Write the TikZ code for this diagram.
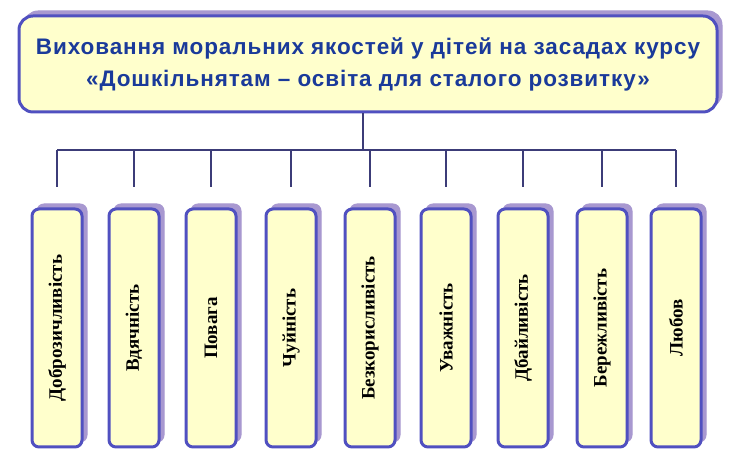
\documentclass[tikz,border=0pt]{standalone}
\usepackage{fontspec}
\setmainfont{Liberation Serif}
\newfontfamily\titlefont[LetterSpace=4]{Liberation Sans}
\usetikzlibrary{calc,shadows}
\definecolor{boxfill}{HTML}{FFFFCC}
\definecolor{boxline}{HTML}{5050C0}
\definecolor{shadowc}{HTML}{A898D0}
\definecolor{titlec}{HTML}{1A3A9A}
\definecolor{linec}{HTML}{3C3C78}
\tikzset{
  yb/.style={draw=boxline, line width=3pt, fill=boxfill, rounded corners=8pt, inner sep=0pt,
    copy shadow={shadow xshift=5pt, shadow yshift=5pt, draw=shadowc, fill=shadowc, line width=1pt}},
  colbox/.style={yb, minimum width=50pt, minimum height=238pt, rounded corners=7pt},
  coltext/.style={rotate=90, font=\bfseries\fontsize{19}{21}\selectfont, text=black},
  conn/.style={draw=linec, line width=2.5pt},
}
\begin{document}
\begin{tikzpicture}[x=1pt,y=1pt]
\useasboundingbox (0,0) rectangle (743,462);
\node[yb, minimum width=698pt, minimum height=96pt, rounded corners=14pt,
  font=\titlefont\bfseries\fontsize{22.5}{32}\selectfont, text=titlec, align=center]
  (top) at (368,398) {Виховання моральних якостей у дітей на засадах курсу\\«Дошкільнятам – освіта для сталого розвитку»};
\foreach \i/\x/\t in {1/57/Доброзичливість,2/134/Вдячність,3/211/Повага,4/291/Чуйність,5/370/Безкорисливість,6/446/Уважність,7/523/Дбайливість,8/602/Бережливість,9/676/Любов}{
  \node[colbox] (b\i) at (\x,134) {};
  \node[coltext] (t\i) at (b\i.center) {\t};
  \coordinate (d\i) at ($(b\i.north)+(0,20)$);
}
\coordinate (hub) at (363,312);
\draw[conn] (top.south -| hub) -- (hub);
\draw[conn] (hub) -- (hub -| d1);
\draw[conn] (hub) -- (hub -| d9);
\foreach \i in {1,...,9}{
  \draw[conn] (hub -| d\i) -- (d\i);
}
\end{tikzpicture}
\end{document}
